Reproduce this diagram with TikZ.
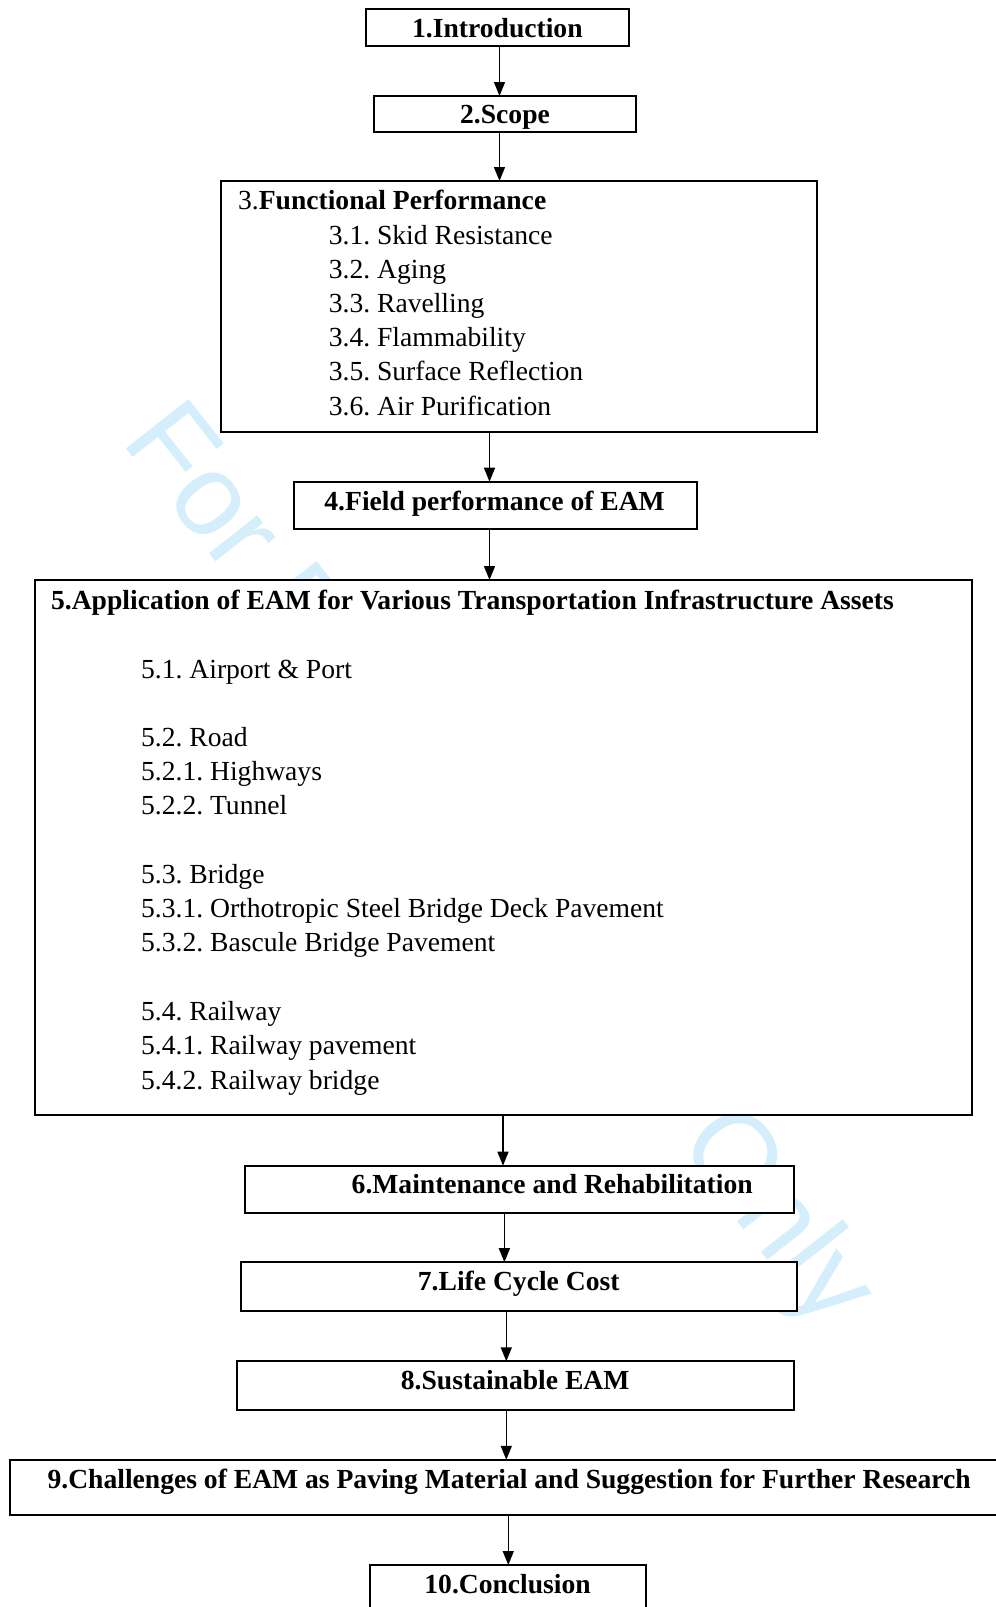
\documentclass[tikz,border=0pt]{standalone}
\usepackage{fontspec}
\setmainfont{Liberation Serif}
\newfontfamily\wmfont{Liberation Sans}
\usetikzlibrary{arrows.meta}
\definecolor{wmblue}{RGB}{213,238,251}
\frenchspacing
\begin{document}
\begin{tikzpicture}[x=0.5pt,y=-0.5pt,
  box/.style={draw=black,line width=1pt,fill=white,inner sep=0pt,outer sep=0pt},
  bt/.style={font=\fontsize{13.8}{16.5}\selectfont\bfseries,inner sep=0pt,anchor=base},
  btl/.style={font=\fontsize{13.8}{16.5}\selectfont\bfseries,inner sep=0pt,anchor=base west},
  it/.style={font=\fontsize{13.8}{16.5}\selectfont,inner sep=0pt,anchor=base west},
  wmark/.style={font=\wmfont\fontsize{58}{60}\selectfont,text=wmblue,inner sep=0pt,anchor=base west,rotate=-51.7},
  arr/.style={line width=0.7pt,-{Triangle[length=7pt,width=5.5pt]}}]
\useasboundingbox (0,0) rectangle (996,1607);
\clip (0,0) rectangle (996,1607);
\fill[white] (0,0) rectangle (996,1607);
% watermark
\node[wmark] (wm) at (120.7,441.2) {For Peer Review Only};
% boxes
\node[box,minimum width=131.35pt,minimum height=18.2pt] (b1) at (497.35,27.5) {};
\node[box,minimum width=131.25pt,minimum height=18.15pt] (b2) at (504.75,114.15) {};
\node[box,minimum width=297.85pt,minimum height=125.5pt] (b3) at (519.15,306.5) {};
\node[box,minimum width=201.75pt,minimum height=23.5pt] (b4) at (495.25,505.2) {};
\node[box,minimum width=468.5pt,minimum height=267.5pt] (b5) at (503.5,847.5) {};
\node[box,minimum width=274.15pt,minimum height=23.85pt] (b6) at (519.35,1189.55) {};
\node[box,minimum width=277.95pt,minimum height=24.55pt] (b7) at (519.35,1286.75) {};
\node[box,minimum width=278.25pt,minimum height=24.55pt] (b8) at (515.25,1385.85) {};
\node[box,minimum width=499.75pt,minimum height=27.4pt] (b9) at (509.25,1487.2) {};
\node[box,minimum width=137.55pt,minimum height=30pt] (b10) at (507.95,1595) {};
% texts
\node[bt] (t1) at (497.4,37.7) {1.Introduction};
\node[bt] (t2) at (505,123.3) {2.Scope};
\node[it] (t3) at (237.7,209.3) {3.\textbf{Functional Performance}};
\foreach \t [count=\i] in {3.1. Skid Resistance,3.2. Aging,3.3. Ravelling,3.4. Flammability,3.5. Surface Reflection,3.6. Air Purification}
  \node[it] (i3\i) at (328.4,{209.9+34.2*\i}) {\t};
\node[bt] (t4) at (494.6,510.7) {4.Field performance of EAM};
\node[btl] (t5) at (50.7,609.3) {5.Application of EAM for Various Transportation Infrastructure Assets};
\foreach \t/\yy [count=\i] in {5.1. Airport \& Port/678.1,5.2. Road/746.2,5.2.1. Highways/780.4,5.2.2. Tunnel/814.7,5.3. Bridge/883.5,5.3.1. Orthotropic Steel Bridge Deck Pavement/917.8,5.3.2. Bascule Bridge Pavement/951.8,5.4. Railway/1020.5,5.4.1. Railway pavement/1054.8,5.4.2. Railway bridge/1089.1}
  \node[it] (i5\i) at (140.7,\yy) {\t};
\node[btl] (t6) at (351.3,1193.6) {6.Maintenance and Rehabilitation};
\node[bt] (t7) at (518.7,1290.8) {7.Life Cycle Cost};
\node[bt] (t8) at (515.2,1389.2) {8.Sustainable EAM};
\node[bt] (t9) at (509.2,1488.4) {9.Challenges of EAM as Paving Material and Suggestion for Further Research};
\node[bt] (t10) at (507.6,1593.3) {10.Conclusion};
% connectors
\coordinate (c1) at (499.5,0);
\coordinate (c3) at (489.5,0);
\coordinate (c5) at (503,0);
\coordinate (c6) at (504.4,0);
\coordinate (c7) at (506.3,0);
\coordinate (c9) at (508.3,0);
\draw[arr] (b1.south -| c1) -- (b2.north -| c1);
\draw[arr] (b2.south -| c1) -- (b3.north -| c1);
\draw[arr] (b3.south -| c3) -- (b4.north -| c3);
\draw[arr] (b4.south -| c3) -- (b5.north -| c3);
\draw[arr] (b5.south -| c5) -- (b6.north -| c5);
\draw[arr] (b6.south -| c6) -- (b7.north -| c6);
\draw[arr] (b7.south -| c7) -- (b8.north -| c7);
\draw[arr] (b8.south -| c7) -- (b9.north -| c7);
\draw[arr] (b9.south -| c9) -- (b10.north -| c9);
\end{tikzpicture}
\end{document}
